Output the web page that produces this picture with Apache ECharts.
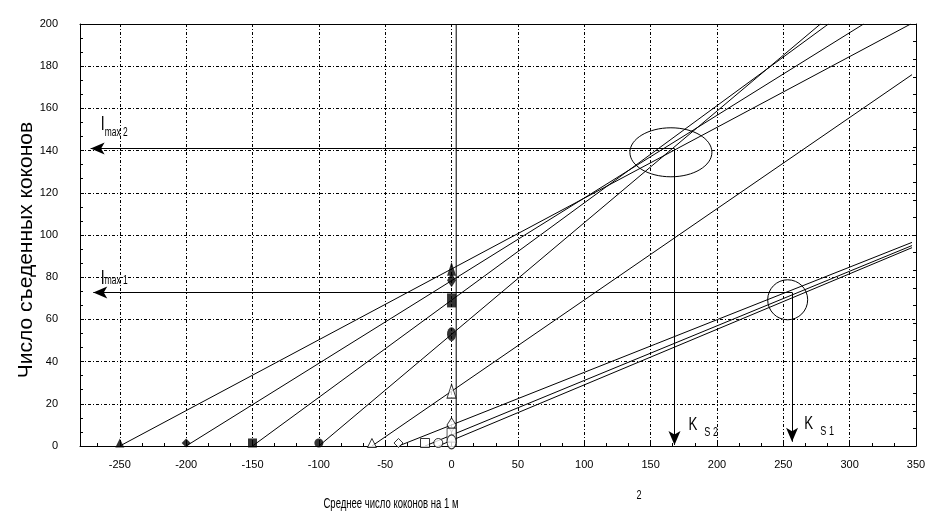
<!DOCTYPE html>
<html><head><meta charset="utf-8">
<script src="https://cdn.jsdelivr.net/npm/echarts@6/dist/echarts.min.js"></script>
<style>html,body{margin:0;padding:0;background:#fff}#c{width:949px;height:527px}</style>
</head><body><div id="c"></div>
<script>
// ---- data ----
const xTickValues = [-250, -200, -150, -100, -50, 0, 50, 100, 150, 200, 250, 300, 350];
const lineStartX = [-250, -200, -150, -100, -60, -40, -20, -10];
const lineInterceptY = [84, 78.5, 69, 53, 26, 10, 5.2, 2];
const lineEndX = [346, 310.5, 284, 278, 347, 347, 347, 347];
const lineEndY = [200, 200, 200, 200, 176, 96.5, 95, 94];
const markerSymbols = ['triangle', 'diamond', 'rect', 'circle', 'triangle', 'diamond', 'rect', 'circle'];
const markerFilled = [true, true, true, true, false, false, false, false];
const imaxValues = [72.8, 141];      // I max 1, I max 2
const ksValues = [256.6, 168];       // K s1, K s2
const arrowTipX = [-270, -272];
const arrowTipY = [2, 0.5];
const refLineX = 3.5;
const ringCenters = [[165.3, 139.2], [253.3, 69.3]];

// ---- styles ----
const SANS = '"Liberation Sans", Arial, sans-serif';
const ringSizes = [[41, 24.5], [20, 20]];
const gridLine = { color: '#000', width: 1, type: [3, 2, 1, 2] };

const xMinor = [];
const allX = [-300].concat(xTickValues);
for (let i = 0; i < allX.length - 1; i++) {
  const a = allX[i], b = allX[i + 1];
  [1, 2].forEach(k => { const v = a + (b - a) * k / 3; if (v > -280) xMinor.push(v); });
}

const series = [];
for (let i = 0; i < lineStartX.length; i++) {
  series.push({
    type: 'line', data: [[lineStartX[i], 0], [lineEndX[i], lineEndY[i]]],
    symbol: 'none', lineStyle: { color: '#000', width: 1 }, silent: true, z: 2
  });
}
for (let i = 0; i < lineStartX.length; i++) {
  series.push({
    type: 'scatter', symbol: markerSymbols[i], z: 5,
    itemStyle: markerFilled[i] ? { color: '#000' } : { color: '#fff', borderColor: '#000', borderWidth: 1 },
    data: [
      { value: [lineStartX[i], 0], symbolSize: [9, 9], symbolOffset: [0, -3] },
      { value: [0, lineInterceptY[i]], symbolSize: [9, 14] }
    ],
    silent: true
  });
}
// reference vertical line + arrows
series.push({
  type: 'line', data: [[refLineX, 0], [refLineX, 200]], symbol: 'none',
  lineStyle: { color: '#000', width: 1 }, silent: true, z: 3,
  markLine: {
    silent: true, symbol: ['none', 'arrow'], symbolSize: [9, 14], precision: 3,
    label: { show: false }, lineStyle: { color: '#000', width: 1, type: 'solid' },
    data: [
      [{ coord: [ksValues[0], imaxValues[0]] }, { coord: [arrowTipX[0], imaxValues[0]] }],
      [{ coord: [ksValues[1], imaxValues[1]] }, { coord: [arrowTipX[1], imaxValues[1]] }],
      [{ coord: [ksValues[0], imaxValues[0]] }, { coord: [ksValues[0], arrowTipY[0]] }],
      [{ coord: [ksValues[1], imaxValues[1]] }, { coord: [ksValues[1], arrowTipY[1]] }]
    ]
  }
});
series.push({
  type: 'custom', data: ringCenters, silent: true, z: 4,
  renderItem: function (params, api) {
    const c = api.coord([api.value(0), api.value(1)]);
    const s = ringSizes[params.dataIndex];
    return { type: 'ellipse', shape: { cx: c[0], cy: c[1], rx: s[0], ry: s[1] },
      style: { fill: 'none', stroke: '#000', lineWidth: 1 } };
  }
});

const chart = echarts.init(document.getElementById('c'), null, { renderer: 'canvas' });
chart.setOption({
  animation: false,
  backgroundColor: '#fff',
  grid: { left: 80, right: 33, top: 24, bottom: 81, containLabel: false },
  xAxis: [
    {
      type: 'value', min: -280, max: 350, position: 'bottom',
      axisLine: { show: true, onZero: false, lineStyle: { color: '#000', width: 1 } },
      axisTick: { show: true, inside: true, length: 4, customValues: xTickValues, lineStyle: { color: '#000' } },
      axisLabel: { customValues: xTickValues, margin: 13, color: '#000', fontFamily: SANS, fontSize: 11 },
      splitLine: { show: true, lineStyle: gridLine }
    },
    {
      type: 'value', min: -280, max: 350, position: 'bottom', offset: 0,
      axisLine: { show: false },
      axisTick: { show: true, inside: true, length: 3, customValues: xMinor, lineStyle: { color: '#000' } },
      axisLabel: { show: false }, splitLine: { show: false }
    },
    {
      type: 'value', min: -280, max: 350, position: 'top',
      axisLine: { show: true, onZero: false, lineStyle: { color: '#000', width: 1 } },
      axisTick: { show: false }, axisLabel: { show: false }, splitLine: { show: false }
    }
  ],
  yAxis: [
    {
      type: 'value', min: 0, max: 200, interval: 20, position: 'left',
      axisLine: { show: true, onZero: false, lineStyle: { color: '#000', width: 1 } },
      axisTick: { show: true, inside: true, length: 4, lineStyle: { color: '#000' } },
      minorTick: { show: true, splitNumber: 3, length: 3, lineStyle: { color: '#000' } },
      axisLabel: { margin: 22, color: '#000', fontFamily: SANS, fontSize: 11 },
      splitLine: { show: true, lineStyle: gridLine }
    },
    {
      type: 'value', min: 0, max: 240, interval: 10, position: 'right',
      axisLine: { show: true, onZero: false, lineStyle: { color: '#000', width: 1 } },
      axisTick: { show: true, inside: true, length: 3, lineStyle: { color: '#000' } },
      axisLabel: { show: false }, splitLine: { show: false }
    }
  ],
  series: series
});

// text annotations anchored on data coordinates
const annot = [
  { text: 'I', at: [-264.3, 152.5], size: 20 },
  { text: 'max 2', at: [-261.3, 148.5], size: 12 },
  { text: 'I', at: [-264.3, 79.5], size: 20 },
  { text: 'max 1', at: [-261.3, 78.5], size: 12 },
  { text: 'K', at: [178.5, 10], size: 19 },
  { text: 'S 2', at: [190.5, 6.4], size: 13 },
  { text: 'K', at: [265.8, 10.7], size: 19 },
  { text: 'S 1', at: [277.9, 6.9], size: 13 }
];
const graphics = annot.map(a => {
  const p = chart.convertToPixel({ xAxisIndex: 0, yAxisIndex: 0 }, a.at);
  return { type: 'text', x: p[0], y: p[1], z: 100, scaleX: 0.7,
    style: { text: a.text, fill: '#000', font: a.size + 'px ' + SANS, align: 'left', verticalAlign: 'middle' } };
});
graphics.push({ type: 'text', x: 26, y: 250, rotation: Math.PI / 2, z: 100,
  style: { text: 'Число съеденных коконов', fill: '#000', font: '21px ' + SANS, align: 'center', verticalAlign: 'middle' } });
graphics.push({ type: 'text', x: 391, y: 504, z: 100, scaleX: 0.68,
  style: { text: 'Среднее число коконов на 1 м', fill: '#000', font: '14px ' + SANS, align: 'center', verticalAlign: 'middle' } });
graphics.push({ type: 'text', x: 639, y: 495, z: 100, scaleX: 0.7,
  style: { text: '2', fill: '#000', font: '13px ' + SANS, align: 'center', verticalAlign: 'middle' } });
chart.setOption({ graphic: graphics });
</script>
</body></html>
